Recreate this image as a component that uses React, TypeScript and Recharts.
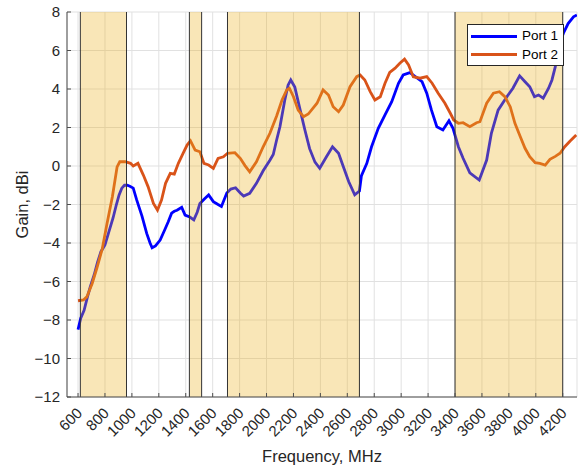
import React from 'react';
import { LineChart, Line, XAxis, YAxis, CartesianGrid, ReferenceArea, ReferenceLine, Label } from 'recharts';

// Port 1 gain (dBi) vs frequency (MHz)
const port1Freq = [
  600, 620, 645, 670, 690, 720, 745, 770, 800, 830, 860, 885, 905, 925, 945, 965, 985,
  1010, 1035, 1075, 1110, 1135, 1150, 1175, 1210, 1245, 1270, 1295, 1315, 1335, 1370, 1395,
  1430, 1460, 1485, 1505, 1540, 1570, 1605, 1640, 1665, 1705, 1735, 1770, 1805, 1830, 1875,
  1925, 1975, 2025, 2050, 2075, 2100, 2135, 2160, 2180, 2210, 2250, 2285, 2320, 2360, 2395,
  2445, 2490, 2535, 2570, 2610, 2655, 2690, 2705, 2745, 2780, 2830, 2880, 2930, 2980, 3015,
  3065, 3105, 3155, 3190, 3225, 3265, 3310, 3355, 3385, 3425, 3460, 3510, 3580, 3635, 3670,
  3720, 3785, 3830, 3880, 3920, 3955, 3990, 4020, 4055, 4095, 4120, 4145, 4170, 4205, 4240,
  4280, 4305,
];
const port1Gain = [
  -8.5, -7.9, -7.5, -6.8, -6.3, -5.65, -5.0, -4.45, -4.1, -3.4, -2.7, -2.0, -1.5, -1.15, -1.0, -1.0, -1.05,
  -1.15, -1.75, -2.6, -3.5, -4.0, -4.25, -4.15, -3.85, -3.3, -2.9, -2.45, -2.35, -2.3, -2.15, -2.55,
  -2.65, -2.8, -2.4, -1.95, -1.7, -1.5, -1.85, -2.0, -2.1, -1.4, -1.2, -1.13, -1.4, -1.56, -1.42,
  -0.9, -0.25, 0.3, 0.6, 1.35, 2.05, 3.4, 4.2, 4.47, 4.1, 2.9, 1.87, 0.9, 0.2, -0.12,
  0.48, 1.0, 0.66, -0.03, -0.81, -1.5, -1.3, -0.5, 0.14, 1.0, 1.96, 2.65, 3.34, 4.3, 4.73,
  4.85, 4.64, 4.38, 3.78, 2.9, 2.04, 1.87, 2.35, 1.96, 1.0, 0.4, -0.35, -0.73, 0.31, 1.7,
  2.9, 3.6, 4.04, 4.68, 4.38, 4.12, 3.6, 3.69, 3.52, 4.04, 4.47, 5.16, 6.2, 6.9, 7.4,
  7.75, 7.84,
];

// Port 2 gain (dBi) vs frequency (MHz)
const port2Freq = [
  600, 640, 665, 705, 740, 780, 815, 855, 890, 910, 950, 990, 1010, 1045, 1085, 1120, 1160,
  1190, 1220, 1250, 1285, 1315, 1345, 1380, 1410, 1435, 1470, 1505, 1535, 1570, 1605, 1640,
  1680, 1710, 1765, 1805, 1840, 1875, 1925, 1975, 2025, 2075, 2115, 2150, 2170, 2200, 2235,
  2275, 2310, 2375, 2420, 2460, 2495, 2535, 2570, 2620, 2670, 2695, 2730, 2770, 2805, 2845,
  2880, 2915, 2955, 2990, 3025, 3055, 3090, 3140, 3190, 3230, 3275, 3325, 3365, 3390, 3425,
  3460, 3510, 3560, 3585, 3635, 3685, 3730, 3770, 3810, 3845, 3885, 3920, 3955, 3995, 4030,
  4070, 4105, 4145, 4180, 4215, 4255, 4300,
];
const port2Gain = [
  -7.0, -6.96, -6.8, -6.1, -5.3, -4.3, -3.0, -1.6, -0.05, 0.22, 0.22, 0.14, 0.0, 0.14, -0.47, -1.07, -1.94,
  -2.29, -1.77, -0.9, -0.38, -0.42, 0.14, 0.66, 1.09, 1.31, 0.83, 0.74, 0.14, 0.05, -0.12, 0.4,
  0.48, 0.66, 0.69, 0.4, 0.02, -0.3, 0.22, 1.0, 1.7, 2.6, 3.43, 3.95, 4.04, 3.6, 2.9,
  2.56, 2.7, 3.26, 3.95, 3.69, 3.08, 2.82, 3.17, 4.12, 4.64, 4.73, 4.47, 3.86, 3.43, 3.6,
  4.3, 4.86, 5.08, 5.34, 5.55, 5.25, 4.64, 4.56, 4.64, 4.3, 3.78, 3.26, 2.74, 2.39, 2.22,
  2.25, 2.04, 2.25, 2.3, 3.26, 3.78, 3.86, 3.6, 3.08, 2.22, 1.52, 0.92, 0.48, 0.17, 0.14,
  0.05, 0.35, 0.5, 0.66, 1.0, 1.3, 1.61,
];

// shaded frequency bands (MHz)
const bandStart = [617, 1427, 1710, 3400];
const bandEnd = [960, 1518, 2690, 4200];

const xTicks = [600, 800, 1000, 1200, 1400, 1600, 1800, 2000, 2200, 2400, 2600, 2800, 3000, 3200, 3400, 3600, 3800, 4000, 4200];
const yTicks = [-12, -10, -8, -6, -4, -2, 0, 2, 4, 6, 8];

const seriesNames = ['Port 1', 'Port 2'];
const seriesColors = ['#0000FF', '#D95319'];

const FONT = '"Liberation Sans", Arial, Helvetica, sans-serif';
const TEXT = '#262626';

const port1Data = port1Freq.map((f, i) => ({ f, g: port1Gain[i] }));
const port2Data = port2Freq.map((f, i) => ({ f, g: port2Gain[i] }));

const fmt = (v: number) => String(v).replace('-', '\u2212');

const XTick = ({ x, y, payload }: any) => {
  const tx = x + 5;
  const ty = y + 17;
  return (
    <text
      x={tx}
      y={ty}
      transform={`rotate(-45 ${tx} ${ty})`}
      textAnchor="end"
      fontSize={15}
      fontFamily={FONT}
      fill={TEXT}
    >
      {payload.value}
    </text>
  );
};

function ChartLegend() {
  return (
    <div
      style={{
        position: 'absolute',
        left: 467,
        top: 24,
        width: 95,
        height: 40,
        background: '#fff',
        border: '1px solid #262626',
        fontFamily: FONT,
        fontSize: 13.5,
        color: '#000',
        zIndex: 5,
      }}
    >
      {seriesNames.map((name, i) => (
        <div key={name} style={{ position: 'absolute', left: 3, top: 3 + i * 18.5, height: 16, display: 'flex', alignItems: 'center' }}>
          <div style={{ width: 46, height: 3, background: seriesColors[i] }} />
          <span style={{ marginLeft: 5, lineHeight: '16px' }}>{name}</span>
        </div>
      ))}
    </div>
  );
}

export default function App() {
  return (
    <div style={{ position: 'absolute', left: 0, top: 0, width: 579, height: 473, background: '#fff' }}>
      <LineChart width={579} height={473} margin={{ top: 12, right: 2, bottom: 0, left: 0 }}>
        <CartesianGrid stroke="#e1e1e1" strokeWidth={1} />
        <XAxis
          type="number"
          dataKey="f"
          domain={[518, 4306]}
          ticks={xTicks}
          allowDataOverflow
          height={76}
          interval={0}
          axisLine={{ stroke: '#4d4d4d' }}
          tickLine={{ stroke: '#4d4d4d' }}
          tickSize={-4}
          tickMargin={4}
          tick={<XTick />}
        >
          <Label
            value="Frequency, MHz"
            position="insideBottom"
            offset={11}
            style={{ fontSize: 16.5, fontFamily: FONT, fill: TEXT }}
          />
        </XAxis>
        <YAxis
          type="number"
          domain={[-12, 8]}
          ticks={yTicks}
          allowDataOverflow
          width={67}
          interval={0}
          axisLine={{ stroke: '#4d4d4d' }}
          tickLine={{ stroke: '#4d4d4d' }}
          tickSize={-4}
          tickMargin={11}
          tickFormatter={fmt}
          tick={{ fontSize: 15, fontFamily: FONT, fill: TEXT }}
        >
          <Label
            content={() => (
              <text
                x={27.5}
                y={204.5}
                transform="rotate(-90 27.5 204.5)"
                textAnchor="middle"
                fontSize={16.5}
                fontFamily={FONT}
                fill={TEXT}
              >
                Gain, dBi
              </text>
            )}
          />
        </YAxis>
        <Line
          data={port1Data}
          dataKey="g"
          type="linear"
          stroke={seriesColors[0]}
          strokeWidth={2.8}
          dot={false}
          isAnimationActive={false}
        />
        <Line
          data={port2Data}
          dataKey="g"
          type="linear"
          stroke={seriesColors[1]}
          strokeWidth={2.8}
          dot={false}
          isAnimationActive={false}
        />
        {bandStart.map((s, i) => (
          <ReferenceArea
            key={`band-${i}`}
            x1={s}
            x2={bandEnd[i]}
            y1={-12}
            y2={8}
            fill="#EDB120"
            fillOpacity={0.32}
            stroke="none"
            zIndex={450}
          />
        ))}
        {bandStart.map((s, i) => (
          <ReferenceLine key={`bs-${i}`} x={s} stroke="#333" strokeWidth={1} zIndex={460} />
        ))}
        {bandEnd.map((e, i) => (
          <ReferenceLine key={`be-${i}`} x={e} stroke="#333" strokeWidth={1} zIndex={460} />
        ))}
      </LineChart>
      <ChartLegend />
    </div>
  );
}
